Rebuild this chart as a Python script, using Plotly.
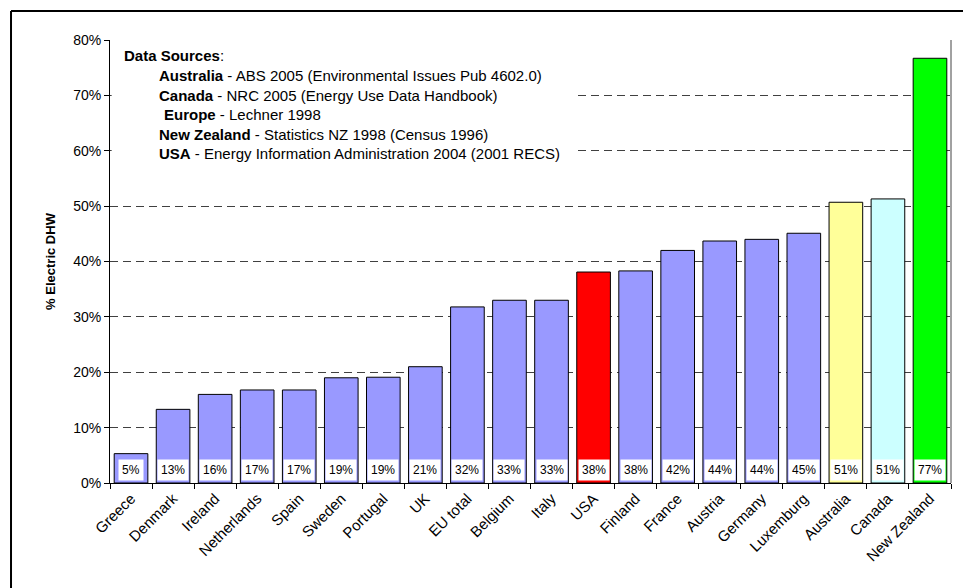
import plotly.graph_objects as go

countries = ["Greece", "Denmark", "Ireland", "Netherlands", "Spain", "Sweden", "Portugal", "UK",
             "EU total", "Belgium", "Italy", "USA", "Finland", "France", "Austria", "Germany",
             "Luxemburg", "Australia", "Canada", "New Zealand"]
values = [5.3, 13.3, 16.0, 16.8, 16.8, 19.0, 19.1, 21.0, 31.8, 33.0, 33.0, 38.1, 38.3, 42.0,
          43.7, 44.0, 45.1, 50.7, 51.3, 76.7]
labels = ["5%", "13%", "16%", "17%", "17%", "19%", "19%", "21%", "32%", "33%", "33%", "38%",
          "38%", "42%", "44%", "44%", "45%", "51%", "51%", "77%"]
bar_colors = ["#9999FF"] * 11 + ["#FF0000"] + ["#9999FF"] * 5 + ["#FFFF99", "#CCFFFF", "#00FF00"]
y_ticks = [0, 10, 20, 30, 40, 50, 60, 70, 80]
y_tick_text = ["0%", "10%", "20%", "30%", "40%", "50%", "60%", "70%", "80%"]

source_lines = [
    ("<b>Data Sources</b>:", 0.0155, 0.9661),
    ("<b>Australia</b> - ABS 2005 (Environmental Issues Pub 4602.0)", 0.0571, 0.9200),
    ("<b>Canada</b> - NRC 2005 (Energy Use Data Handbook)", 0.0571, 0.8758),
    ("<b>Europe</b> - Lechner 1998", 0.0630, 0.8323),
    ("<b>New Zealand</b> - Statistics NZ 1998 (Census 1996)", 0.0571, 0.7871),
    ("<b>USA</b> - Energy Information Administration 2004 (2001 RECS)", 0.0571, 0.7427),
]

FONT = "Liberation Sans, Arial, sans-serif"

fig = go.Figure(go.Bar(
    x=countries, y=values,
    marker=dict(color=bar_colors, line=dict(color="black", width=1)),
    hoverinfo="x+y",
))

annotations = []
for c, lab in zip(countries, labels):
    annotations.append(dict(x=c, y=0, xref="x", yref="y", text=lab, showarrow=False,
                            yanchor="bottom", yshift=2, bgcolor="white", borderpad=3,
                            font=dict(family=FONT, size=12, color="black")))
for txt, xp, yp in source_lines:
    annotations.append(dict(x=xp, y=yp, xref="paper", yref="paper", text=txt, showarrow=False,
                            xanchor="left", yanchor="middle", borderpad=0,
                            font=dict(family=FONT, size=15, color="black")))

shapes = [
    # white box behind source text, hiding gridlines
    dict(type="rect", xref="paper", yref="paper", x0=0.002, x1=0.5553, y0=0.70, y1=0.996,
         fillcolor="white", line=dict(width=0), layer="above"),
    # right border of plot area
    dict(type="line", xref="paper", yref="paper", x0=1, x1=1, y0=0, y1=1,
         line=dict(color="#444444", width=1)),
    # outer frame (top and left)
    dict(type="line", xref="paper", yref="paper", x0=-0.1177, x1=1.06, y0=1.0655, y1=1.0655,
         line=dict(color="black", width=2)),
    dict(type="line", xref="paper", yref="paper", x0=-0.1177, x1=-0.1177, y0=1.0655, y1=-0.3,
         line=dict(color="black", width=2)),
]

fig.update_layout(
    width=971, height=588,
    margin=dict(l=102, r=28, t=32, b=113, autoexpand=False),
    paper_bgcolor="white", plot_bgcolor="white",
    bargap=0.2, showlegend=False,
    font=dict(family=FONT, size=13, color="black"),
    annotations=annotations, shapes=shapes,
)
fig.update_xaxes(
    type="category", tickson="boundaries", ticks="outside", ticklen=5, tickcolor="black",
    showline=True, linecolor="black", linewidth=1, tickangle=-45, automargin=False,
    tickfont=dict(family=FONT, size=15, color="black"), showgrid=False,
)
fig.update_yaxes(
    range=[0, 80], tickmode="array", tickvals=y_ticks, ticktext=y_tick_text,
    ticks="outside", ticklen=5,
    tickcolor="black", showline=True, linecolor="black", linewidth=1,
    showgrid=True, gridcolor="#404040", griddash="8px,5px", gridwidth=1, zeroline=False,
    tickfont=dict(family=FONT, size=14, color="black"), automargin=False,
    title=dict(text="<b>% Electric DHW</b>", font=dict(family=FONT, size=13, color="black"),
               standoff=14),
)

fig.write_html("out.html")
